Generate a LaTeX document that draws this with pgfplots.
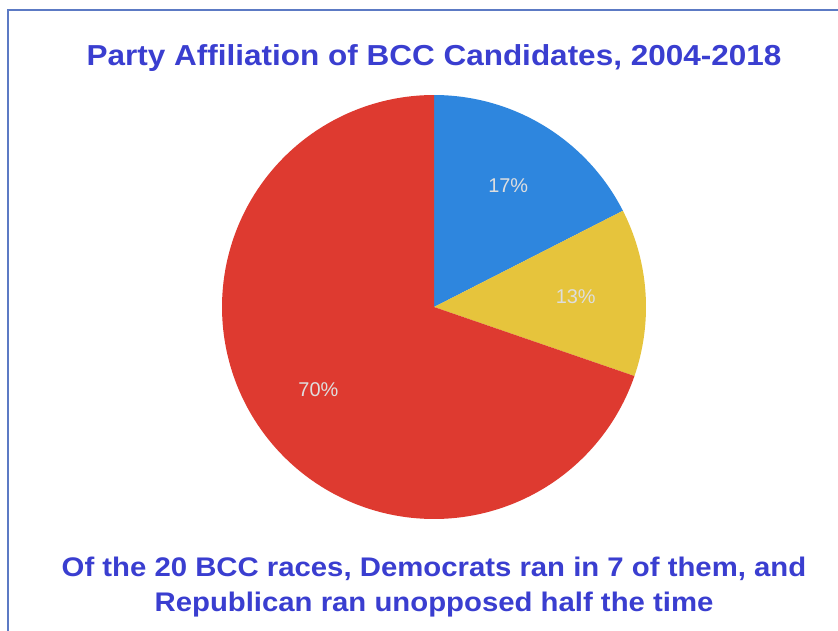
\documentclass[border=0pt]{standalone}
\usepackage{pgfplots}
\pgfplotsset{compat=1.18}
\usepackage{pgfplotstable}
\usepgfplotslibrary{polar}
\usepackage{fontspec}
\setmainfont{Liberation Sans}
\newfontfamily\ttlfont[FakeStretch=1.09]{Liberation Sans}
\definecolor{pblue}{RGB}{46,134,222}
\definecolor{pyellow}{RGB}{230,196,60}
\definecolor{pred}{RGB}{222,58,48}
\definecolor{ttl}{RGB}{58,62,208}
\definecolor{framec}{RGB}{92,122,196}
\definecolor{lbl}{RGB}{222,222,222}

% label positions (angle in degrees, radius as fraction of pie radius)
\pgfplotstableread{
angle radius label
58.5 0.67 17
4 0.67 13
215.5 0.67 70
}\labeltab

\begin{document}
\begin{tikzpicture}
\path[use as bounding box] (0,0) rectangle (419bp,-315.5bp);
\fill[white] (0,0) rectangle (419bp,-315.5bp);
\draw[framec, line width=0.75bp] (4bp,-316bp) -- (4bp,-5bp) -- (420bp,-5bp);
\begin{axis}[at={(217bp,-153.5bp)}, anchor=center,
  width=212bp, height=212bp, scale only axis, hide axis,
  xmin=-1, xmax=1, ymin=-1, ymax=1, clip=false]
% Democrat 17%
\addplot[draw=none, fill=pblue, domain=27:90, samples=64, data cs=polar] ({x},{1}) -- (axis cs:0,0) -- cycle;
% Other 13%
\addplot[draw=none, fill=pyellow, domain=-19:27, samples=48, data cs=polar] ({x},{1}) -- (axis cs:0,0) -- cycle;
% Republican 70%
\addplot[draw=none, fill=pred, domain=-270:-19, samples=200, data cs=polar] ({x},{1}) -- (axis cs:0,0) -- cycle;
\addplot[draw=none, mark=none, data cs=polar, point meta=explicit symbolic,
  nodes near coords={\pgfplotspointmeta\%},
  every node near coord/.append style={anchor=center, text=lbl, font=\fontsize{10}{12}\selectfont}]
  table[x=angle, y=radius, meta=label] {\labeltab};
\end{axis}
\node[anchor=base, text=ttl, font=\ttlfont\bfseries\fontsize{14.5}{17}\selectfont] at (217bp,-32.5bp) {Party Affiliation of BCC Candidates, 2004-2018};
\node[anchor=base, text=ttl, font=\ttlfont\bfseries\fontsize{13.5}{16}\selectfont] at (217bp,-288.35bp) {Of the 20 BCC races, Democrats ran in 7 of them, and};
\node[anchor=base, text=ttl, font=\ttlfont\bfseries\fontsize{13.5}{16}\selectfont] at (217bp,-305.5bp) {Republican ran unopposed half the time};
\end{tikzpicture}
\end{document}
